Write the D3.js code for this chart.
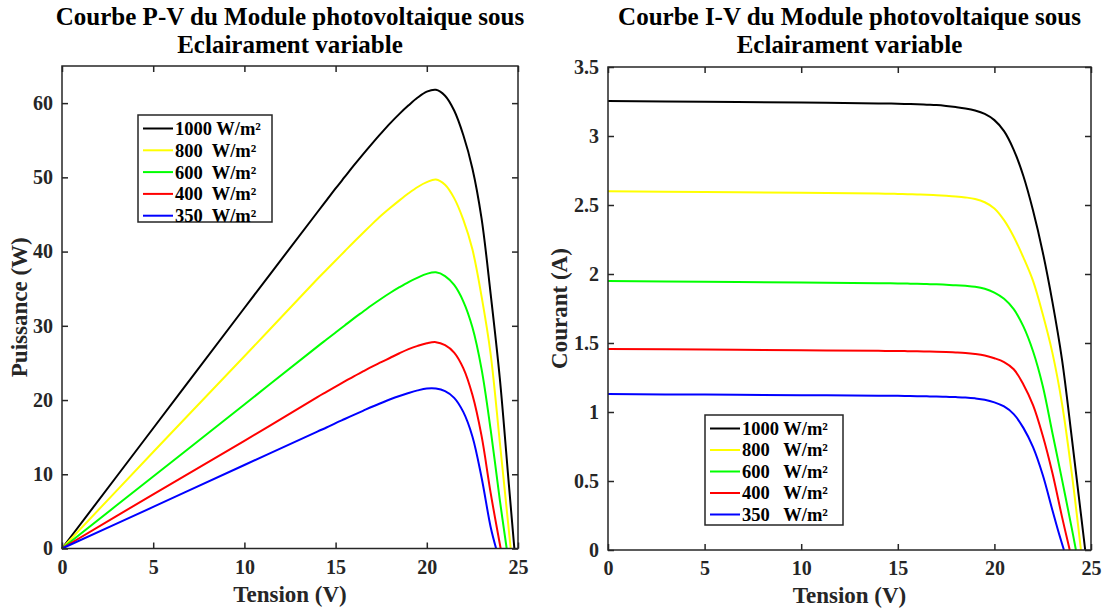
<!DOCTYPE html>
<html>
<head>
<meta charset="utf-8">
<script src="https://cdn.jsdelivr.net/npm/d3@7"></script>
<style>
  body { margin: 0; background: #fff; }
  svg text { font-family: "Liberation Serif", "Times New Roman", serif; font-weight: bold; }
</style>
</head>
<body>
<svg id="chart" width="1105" height="610"></svg>
<script>
// irradiance levels (legend) and curve colours
var irradiance = ["1000", "800", "600", "400", "350"];
var curveColors = ["#000000", "#ffff00", "#00ff00", "#ff0000", "#0000ff"];

// tick values
var tensionTicks = [0, 5, 10, 15, 20, 25];
var puissanceTicks = [0, 10, 20, 30, 40, 50, 60];
var courantTicks = [0, 0.5, 1, 1.5, 2, 2.5, 3, 3.5];

// P-V curves : [tension (V), puissance (W)]
var pv1000 = [[0,0],[5,16.2],[10,32.4],[14,45.3],[14.5,46.9],[15,48.5],[15.5,50.05],[16,51.6],[16.5,53.1],[17,54.55],[17.5,55.95],[18,57.3],[18.5,58.55],[19,59.7],[19.5,60.75],[20,61.55],[20.5,61.8],[21,61],[21.5,59],[22,55.7],[22.5,51.2],[23,44.5],[23.5,34.3],[24,23],[24.5,8.6],[24.8,0]];
var pv800  = [[0,0],[5,13],[10,25.9],[14,36.3],[14.5,37.55],[15,38.8],[15.5,40.05],[16,41.3],[16.5,42.5],[17,43.7],[17.5,44.85],[18,45.9],[18.5,46.9],[19,47.85],[19.5,48.7],[20,49.35],[20.5,49.7],[21,49],[21.5,47.2],[22,44.3],[22.5,40.3],[23,34],[23.5,26.2],[24,14.4],[24.3,7.2],[24.6,0]];
var pv600  = [[0,0],[5,9.7],[10,19.4],[14,27.2],[14.5,28.15],[15,29.1],[15.5,30.05],[16,31],[16.5,31.9],[17,32.8],[17.5,33.65],[18,34.45],[18.5,35.2],[19,35.9],[19.5,36.5],[20,37],[20.5,37.2],[21,36.7],[21.5,35.5],[22,33.3],[22.5,29.8],[23,24.2],[23.5,16],[24,6.6],[24.38,0]];
var pv400  = [[0,0],[5,7.3],[10,14.5],[14,20.4],[14.5,21.1],[15,21.8],[15.5,22.5],[16,23.2],[16.5,23.85],[17,24.5],[17.5,25.1],[18,25.7],[18.5,26.3],[19,26.85],[19.5,27.3],[20,27.65],[20.5,27.8],[21,27.4],[21.5,26.4],[22,24.3],[22.5,20.7],[23,15.2],[23.5,7.5],[24.05,0]];
var pv350  = [[0,0],[5,5.6],[10,11.25],[14,15.75],[14.5,16.3],[15,16.9],[15.5,17.45],[16,18],[16.5,18.55],[17,19.1],[17.5,19.6],[18,20.1],[18.5,20.55],[19,20.95],[19.5,21.3],[20,21.55],[20.5,21.55],[21,21.2],[21.5,20.3],[22,18.4],[22.5,15.1],[23,9.6],[23.5,2.9],[23.8,0]];

// I-V curves : [tension (V), courant (A)]
var iv1000 = [[0,3.254],[5,3.248],[10,3.242],[14,3.236],[14.5,3.235],[15,3.234],[15.5,3.232],[16,3.23],[16.5,3.227],[17,3.224],[17.5,3.218],[18,3.21],[18.5,3.2],[19,3.185],[19.5,3.16],[20,3.115],[20.5,3.035],[21,2.9],[21.5,2.71],[22,2.46],[22.5,2.16],[23,1.8],[23.5,1.38],[24,0.82],[24.35,0.41],[24.7,0]];
var iv800  = [[0,2.6],[5,2.594],[10,2.588],[14,2.583],[14.5,2.582],[15,2.58],[15.5,2.578],[16,2.576],[16.5,2.574],[17,2.571],[17.5,2.567],[18,2.562],[18.5,2.555],[19,2.544],[19.5,2.52],[20,2.475],[20.5,2.39],[21,2.27],[21.5,2.12],[22,1.95],[22.5,1.71],[23,1.43],[23.5,1.06],[24,0.56],[24.48,0]];
var iv600  = [[0,1.949],[5,1.944],[10,1.938],[14,1.933],[14.5,1.9325],[15,1.932],[15.5,1.9305],[16,1.929],[16.5,1.927],[17,1.925],[17.5,1.922],[18,1.919],[18.5,1.914],[19,1.907],[19.5,1.893],[20,1.865],[20.5,1.82],[21,1.745],[21.5,1.62],[22,1.44],[22.5,1.19],[23,0.85],[23.5,0.51],[24,0.16],[24.22,0]];
var iv400  = [[0,1.457],[5,1.452],[10,1.447],[14,1.443],[14.5,1.4425],[15,1.442],[15.5,1.441],[16,1.44],[16.5,1.4385],[17,1.437],[17.5,1.435],[18,1.432],[18.5,1.428],[19,1.421],[19.5,1.41],[20,1.39],[20.5,1.362],[21,1.31],[21.5,1.2],[22,1.05],[22.5,0.83],[23,0.56],[23.5,0.24],[23.9,0]];
var iv350  = [[0,1.13],[5,1.126],[10,1.122],[14,1.118],[14.5,1.1175],[15,1.117],[15.5,1.116],[16,1.115],[16.5,1.1135],[17,1.112],[17.5,1.11],[18,1.108],[18.5,1.105],[19,1.099],[19.5,1.089],[20,1.07],[20.5,1.04],[21,0.985],[21.5,0.885],[22,0.745],[22.5,0.545],[23,0.29],[23.3,0.14],[23.6,0]];

var svg = d3.select("#chart");
var axisColor = "#262626";

function drawPanel(cfg) {
  var x = d3.scaleLinear().domain([0, 25]).range([cfg.left, cfg.right]);
  var y = d3.scaleLinear().domain(cfg.yDomain).range([cfg.bottom, cfg.top]);
  var g = svg.append("g");

  // title (2 lines)
  var cx = (cfg.left + cfg.right) / 2;
  cfg.title.forEach(function(t, i) {
    g.append("text").attr("x", cx).attr("y", 24.5 + i * 28)
      .attr("text-anchor", "middle").attr("font-size", "25px").attr("fill", "#000").text(t);
  });

  // curves
  var line = d3.line()
    .x(function(d) { return x(d[0]); })
    .y(function(d) { return y(d[1]); })
    .curve(d3.curveCatmullRom.alpha(0.5));
  cfg.series.forEach(function(s, i) {
    g.append("path").datum(s)
      .attr("d", line)
      .attr("fill", "none")
      .attr("stroke", curveColors[i])
      .attr("stroke-width", 2);
  });

  // axes with inward ticks on all four sides
  var fmt = function(d) { return String(d); };
  var bottom = g.append("g").attr("transform", "translate(0," + cfg.bottom + ")")
    .call(d3.axisBottom(x).tickValues(tensionTicks).tickSize(-6).tickPadding(11).tickFormat(fmt));
  var top = g.append("g").attr("transform", "translate(0," + cfg.top + ")")
    .call(d3.axisTop(x).tickValues(tensionTicks).tickSize(-6).tickFormat(""));
  var left = g.append("g").attr("transform", "translate(" + cfg.left + ",0)")
    .call(d3.axisLeft(y).tickValues(cfg.yTicks).tickSize(-6).tickPadding(9).tickFormat(fmt));
  var right = g.append("g").attr("transform", "translate(" + cfg.right + ",0)")
    .call(d3.axisRight(y).tickValues(cfg.yTicks).tickSize(-6).tickFormat(""));
  [bottom, top, left, right].forEach(function(a) {
    a.select(".domain").remove();
    a.selectAll(".tick line").attr("stroke", axisColor).attr("stroke-width", 1.5);
    a.selectAll(".tick text").attr("fill", axisColor).attr("font-size", "20px")
      .attr("font-family", "Liberation Serif").attr("font-weight", "bold");
  });
  bottom.selectAll(".tick text").attr("dy", "0.71em");

  g.append("rect")
    .attr("x", cfg.left).attr("y", cfg.top)
    .attr("width", cfg.right - cfg.left).attr("height", cfg.bottom - cfg.top)
    .attr("fill", "none").attr("stroke", axisColor).attr("stroke-width", 1.5);

  // axis labels
  g.append("text").attr("x", cx).attr("y", cfg.bottom + 53)
    .attr("text-anchor", "middle").attr("font-size", "23px").attr("fill", axisColor)
    .text("Tension (V)");
  g.append("text")
    .attr("transform", "translate(" + cfg.yLabelX + "," + ((cfg.top + cfg.bottom) / 2) + ") rotate(-90)")
    .attr("text-anchor", "middle").attr("font-size", "23px").attr("fill", axisColor)
    .text(cfg.yLabel);

  // legend
  var lg = cfg.legend;
  g.append("rect").attr("x", lg.x).attr("y", lg.y).attr("width", lg.w).attr("height", lg.h)
    .attr("fill", "#fff").attr("stroke", axisColor).attr("stroke-width", 1.5);
  irradiance.forEach(function(name, i) {
    var yy = lg.y + 13.5 + i * lg.step;
    g.append("line").attr("x1", lg.x + 5).attr("x2", lg.x + 35)
      .attr("y1", yy).attr("y2", yy)
      .attr("stroke", curveColors[i]).attr("stroke-width", 2);
    var gap = i === 0 ? " " : lg.gap;
    g.append("text").attr("x", lg.x + 37).attr("y", yy).attr("dy", "0.35em")
      .attr("font-size", "18.5px").attr("fill", "#000")
      .attr("xml:space", "preserve")
      .style("white-space", "pre")
      .text(name + gap + "W/m²");
  });
}

drawPanel({
  left: 62, right: 518, top: 66, bottom: 548.5,
  yDomain: [0, 65], yTicks: puissanceTicks,
  title: ["Courbe P-V du Module photovoltaique sous", "Eclairament variable"],
  yLabel: "Puissance (W)", yLabelX: 27,
  series: [pv1000, pv800, pv600, pv400, pv350],
  legend: { x: 138, y: 115, w: 134, h: 107, step: 21.8, gap: "  " }
});

drawPanel({
  left: 608, right: 1091, top: 67, bottom: 550,
  yDomain: [0, 3.5], yTicks: courantTicks,
  title: ["Courbe I-V du Module photovoltaique sous", "Eclairament variable"],
  yLabel: "Courant (A)", yLabelX: 567,
  series: [iv1000, iv800, iv600, iv400, iv350],
  legend: { x: 705, y: 415, w: 138, h: 110, step: 21.5, gap: "   " }
});
</script>
</body>
</html>
